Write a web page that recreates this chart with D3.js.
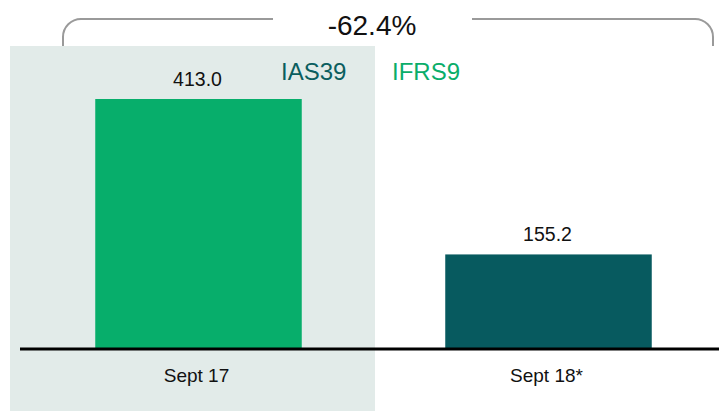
<html>
  <head>
    <style>
      body { margin: 0; background: #fff; }
      text { font-family: "Liberation Sans", Arial, sans-serif; }
    </style>
  </head>
  <body>
    <div id="container"></div>
    <script src="https://cdn.jsdelivr.net/npm/d3@7"></script>
    <script>
      const categories = ["Sept 17", "Sept 18*"];
      const values = [413.0, 155.2];
      const valueLabels = ["413.0", "155.2"];
      const changeLabel = "-62.4%";
      const legendLabels = ["IAS39", "IFRS9"];

      const svgW = 719, svgH = 411;
      const baseY = 348;

      const svg = d3.select("#container").append("svg")
        .attr("width", svgW)
        .attr("height", svgH);

      const x = d3.scaleBand()
        .domain(categories)
        .range([23.5, 723.5])
        .paddingInner(0.41)
        .paddingOuter(0.205);

      const y = d3.scaleLinear()
        .domain([0, 413])
        .range([baseY, 99]);

      // shaded IAS39 zone
      svg.append("rect")
        .attr("x", 10).attr("y", 46)
        .attr("width", 365).attr("height", 365)
        .attr("fill", "#e2ebe9");

      // bracket over the bars
      const br = 18, brTop = 19, brBot = 46, brL = 63, brR = 713;
      const bracket = d3.path();
      bracket.moveTo(brL, brBot);
      bracket.lineTo(brL, brTop + br);
      bracket.arcTo(brL, brTop, brL + br, brTop, br);
      bracket.lineTo(273, brTop);
      bracket.moveTo(472, brTop);
      bracket.lineTo(brR - br, brTop);
      bracket.arcTo(brR, brTop, brR, brTop + br, br);
      bracket.lineTo(brR, brBot);
      svg.append("path")
        .attr("d", bracket.toString())
        .attr("fill", "none")
        .attr("stroke", "#9a9a9a")
        .attr("stroke-width", 2);

      svg.append("text")
        .attr("x", 372).attr("y", 35)
        .attr("text-anchor", "middle")
        .attr("font-size", 28)
        .attr("fill", "#111")
        .text(changeLabel);

      // bars
      const barColors = ["#07ae6b", "#075a5f"];
      svg.selectAll(".bar")
        .data(values)
        .join("rect")
        .attr("class", "bar")
        .attr("x", (d, i) => x(categories[i]))
        .attr("y", (d) => y(d))
        .attr("width", x.bandwidth())
        .attr("height", (d) => baseY - y(d))
        .attr("fill", (d, i) => barColors[i]);

      svg.selectAll(".val")
        .data(values)
        .join("text")
        .attr("class", "val")
        .attr("x", (d, i) => x(categories[i]) + x.bandwidth() / 2 - 1)
        .attr("y", (d) => y(d) - 13)
        .attr("text-anchor", "middle")
        .attr("font-size", 19.5)
        .attr("fill", "#111")
        .text((d, i) => valueLabels[i]);

      // legend labels
      const legendColors = ["#0b5e5f", "#0aad6a"];
      const legendX = [281, 392];
      svg.selectAll(".leg")
        .data(legendLabels)
        .join("text")
        .attr("class", "leg")
        .attr("x", (d, i) => legendX[i])
        .attr("y", 80)
        .attr("font-size", 24)
        .attr("fill", (d, i) => legendColors[i])
        .text((d) => d);

      // baseline axis
      const axis = svg.append("g")
        .attr("transform", `translate(0,${baseY + 1})`)
        .call(d3.axisBottom(x).tickSize(0).tickPadding(20));
      axis.select(".domain").remove();
      axis.append("line")
        .attr("x1", 20).attr("x2", 719)
        .attr("stroke", "#000")
        .attr("stroke-width", 3);
      axis.selectAll(".tick text")
        .attr("font-family", "Liberation Sans, Arial, sans-serif")
        .attr("font-size", 19)
        .attr("fill", "#111")
        .attr("dx", -2);
    </script>
  </body>
</html>
